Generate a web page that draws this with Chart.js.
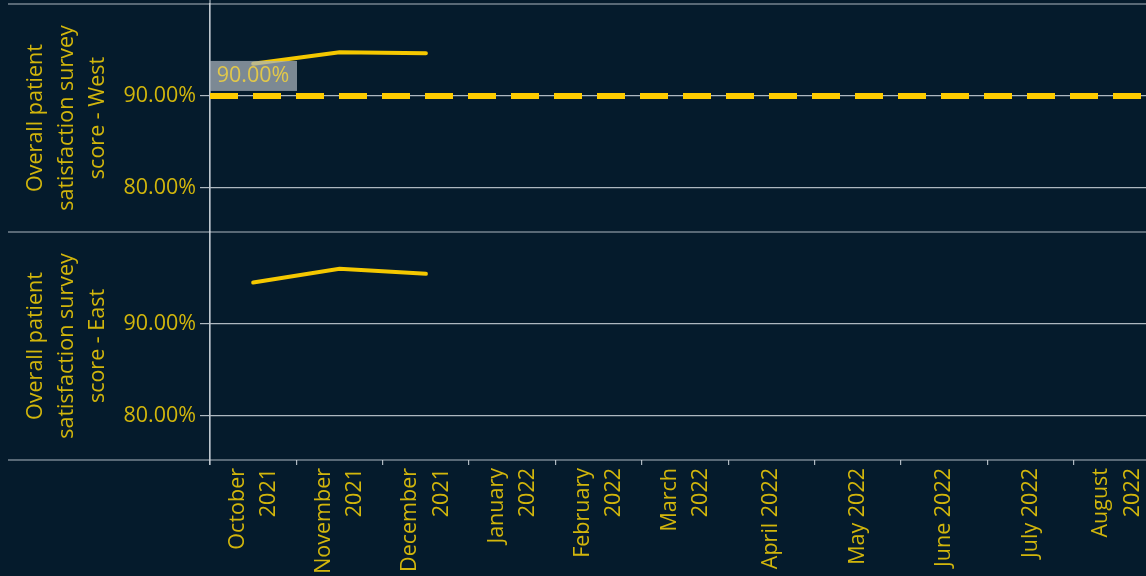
<!DOCTYPE html>
<html lang="en">
<head>
    <meta charset="UTF-8">
    <title>Overall patient satisfaction survey score</title>
    <script src="https://cdn.jsdelivr.net/npm/chart.js@4"></script>
    <style>
        html, body {
            margin: 0;
            padding: 0;
            width: 1146px;
            height: 576px;
            overflow: hidden;
            background-color: #051b2c;
        }
        canvas {
            display: block;
        }
    </style>
</head>
<body>
    <canvas id="grafico" width="1160" height="576"></canvas>

    <script>
        // months on the x axis (Tableau wraps some of them on two lines)
        const meses = [
            ['October', '2021'], ['November', '2021'], ['December', '2021'],
            ['January', '2022'], ['February', '2022'], ['March', '2022'],
            'April 2022', 'May 2022', 'June 2022', 'July 2022', ['August', '2022']
        ];

        // satisfaction scores in percent, only three months reported
        const scoreWest = [93.5, 94.75, 94.65, null, null, null, null, null, null, null, null];
        const scoreEast = [94.5, 96.0, 95.45, null, null, null, null, null, null, null, null];

        const targetWest = 90;          // reference line, west panel
        const yTicks = [80, 90];
        const yMin = 75.2;
        const yMax = 100;

        const titleWest = ['Overall patient', 'satisfaction survey', 'score - West'];
        const titleEast = ['Overall patient', 'satisfaction survey', 'score - East'];

        const AMARILLO = '#f5c800';
        const TEXTO = '#d2b60c';
        const REJILLA = 'rgba(205, 212, 218, 0.85)';
        const FUENTE = { family: '"Open Sans", sans-serif', size: 21.5, lineHeight: 1.45 };
        const LINEA = FUENTE.size * FUENTE.lineHeight;

        function ejeY(titulo) {
            return {
                type: 'linear',
                position: 'left',
                stack: 'paneles',
                stackWeight: 1,
                min: yMin,
                max: yMax,
                afterBuildTicks: (scale) => {
                    scale.ticks = yTicks.map(v => ({ value: v }));
                },
                afterFit: (scale) => {
                    scale.width = 210;
                    scale.paddingTop = 0;
                    scale.paddingBottom = 0;
                },
                ticks: {
                    color: TEXTO,
                    font: FUENTE,
                    padding: 4,
                    callback: (v) => v.toFixed(2) + '%'
                },
                grid: {
                    color: REJILLA,
                    lineWidth: 1.2,
                    tickLength: 10
                },
                border: {
                    display: true,
                    color: REJILLA,
                    width: 1.2
                },
                title: {
                    display: true,
                    text: titulo,
                    color: TEXTO,
                    font: FUENTE,
                    padding: { top: 20, bottom: 0 }
                }
            };
        }

        // frame lines, dashed target and its label box
        const marcoPlugin = {
            id: 'marco',
            beforeDraw(chart) {
                const ctx = chart.ctx;
                ctx.save();
                ctx.fillStyle = '#051b2c';
                ctx.fillRect(0, 0, chart.width, chart.height);
                ctx.restore();
            },
            afterDatasetsDraw(chart) {
                const ctx = chart.ctx;
                const area = chart.chartArea;
                const yW = chart.scales.yWest;
                const yE = chart.scales.yEast;

                ctx.save();
                ctx.strokeStyle = REJILLA;
                ctx.lineWidth = 1.2;
                [yW.top, yW.bottom, yE.bottom].forEach(y => {
                    ctx.beginPath();
                    ctx.moveTo(8, y);
                    ctx.lineTo(chart.width, y);
                    ctx.stroke();
                });
                ctx.beginPath();
                ctx.moveTo(area.left, 0);
                ctx.lineTo(area.left, yE.bottom + 5);
                ctx.stroke();

                const yRef = yW.getPixelForValue(targetWest);
                ctx.strokeStyle = '#ffcc00';
                ctx.lineWidth = 6;
                ctx.setLineDash([28, 15]);
                ctx.beginPath();
                ctx.moveTo(area.left, yRef);
                ctx.lineTo(area.right, yRef);
                ctx.stroke();
                ctx.setLineDash([]);

                ctx.fillStyle = 'rgba(170, 180, 188, 0.72)';
                ctx.fillRect(area.left, yRef - 35, 87, 30);
                ctx.fillStyle = '#e2c84a';
                ctx.font = '21.5px "Open Sans", sans-serif';
                ctx.textAlign = 'center';
                ctx.textBaseline = 'middle';
                ctx.fillText(targetWest.toFixed(2) + '%', area.left + 43, yRef - 20);
                ctx.restore();
            }
        };

        new Chart(document.getElementById('grafico'), {
            type: 'line',
            data: {
                labels: meses,
                datasets: [
                    {
                        label: 'West',
                        data: scoreWest,
                        yAxisID: 'yWest',
                        borderColor: AMARILLO,
                        borderWidth: 4,
                        borderCapStyle: 'round',
                        pointRadius: 0,
                        tension: 0
                    },
                    {
                        label: 'East',
                        data: scoreEast,
                        yAxisID: 'yEast',
                        borderColor: AMARILLO,
                        borderWidth: 4,
                        borderCapStyle: 'round',
                        pointRadius: 0,
                        tension: 0
                    }
                ]
            },
            options: {
                responsive: false,
                animation: false,
                devicePixelRatio: 1,
                layout: { padding: { top: 4, left: 0, right: 0, bottom: 0 } },
                plugins: {
                    legend: { display: false },
                    tooltip: { enabled: false }
                },
                scales: {
                    x: {
                        type: 'category',
                        offset: true,
                        afterFit: (scale) => {
                            scale.height = 116;
                            scale.paddingLeft = 0;
                            scale.paddingRight = 0;
                        },
                        grid: {
                            offset: true,
                            drawOnChartArea: false,
                            drawTicks: true,
                            tickLength: 5,
                            color: REJILLA,
                            lineWidth: 1.2
                        },
                        border: { display: false },
                        ticks: {
                            color: TEXTO,
                            // rotated multi-line labels start at the tick, so pull the
                            // two-line ones back by half a line and pad single ones
                            labelOffset: -LINEA / 2,
                            font: (c) => Array.isArray(meses[c.index])
                                ? FUENTE
                                : { ...FUENTE, lineHeight: (LINEA / 2) + 'px' },
                            callback: (v, i) => Array.isArray(meses[i]) ? meses[i] : ['', meses[i]],
                            minRotation: 90,
                            maxRotation: 90,
                            autoSkip: false,
                            padding: 3
                        }
                    },
                    // listed east first so that west sits on top of the stack
                    yEast: ejeY(titleEast),
                    yWest: ejeY(titleWest)
                }
            },
            plugins: [marcoPlugin]
        });
    </script>
</body>
</html>
